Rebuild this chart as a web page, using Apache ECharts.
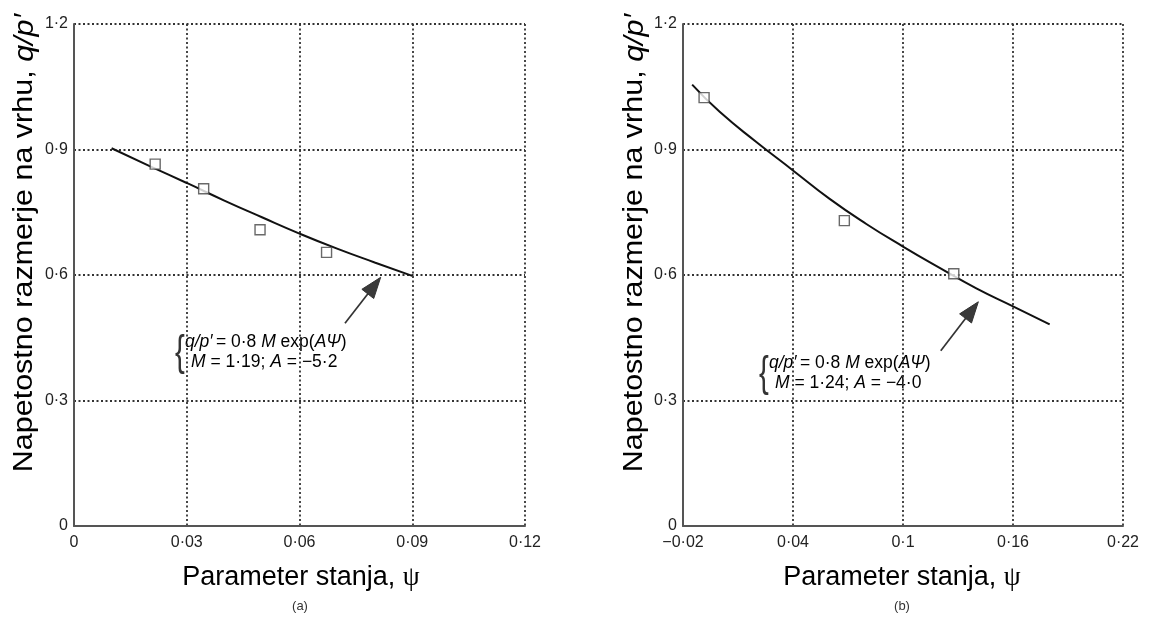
<!DOCTYPE html>
<html><head><meta charset="utf-8">
<script src="https://cdn.jsdelivr.net/npm/echarts@6/dist/echarts.min.js"></script>
<style>html,body{margin:0;padding:0;background:#fff}#c{width:1150px;height:617px}</style>
</head><body><div id="c"></div>
<script>
// ---- tick values / labels ----
const yTicks = [0, 0.3, 0.6, 0.9, 1.2];
const yTickLabels = ['0', '0·3', '0·6', '0·9', '1·2'];
const xTicksA = [0, 0.03, 0.06, 0.09, 0.12];
const xTickLabelsA = ['0', '0·03', '0·06', '0·09', '0·12'];
const xTicksB = [-0.02, 0.04, 0.10, 0.16, 0.22];
const xTickLabelsB = ['−0·02', '0·04', '0·1', '0·16', '0·22'];

// ---- panel (a) ----
const pointsAx = [0.0216, 0.0345, 0.0495, 0.0672];
const pointsAy = [0.865, 0.806, 0.708, 0.654];
const curveAx = [0.010, 0.020, 0.030, 0.040, 0.050, 0.060, 0.070, 0.080, 0.090];
const curveAy = [0.903, 0.861, 0.820, 0.778, 0.738, 0.699, 0.663, 0.630, 0.598];
const arrowA = [0.0721, 0.4846, 0.0816, 0.5945];

// ---- panel (b) ----
const pointsBx = [-0.0085, 0.068, 0.1277];
const pointsBy = [1.024, 0.730, 0.603];
const curveBx = [-0.015, 0.000, 0.020, 0.040, 0.060, 0.080, 0.100, 0.120, 0.140, 0.160, 0.180];
const curveBy = [1.055, 0.990, 0.918, 0.850, 0.782, 0.722, 0.668, 0.617, 0.568, 0.525, 0.482];
const arrowB = [0.1206, 0.419, 0.1411, 0.536];

const FONT = "'Liberation Sans', Arial, Helvetica, sans-serif";
const zip = (a, b) => a.map((v, i) => [v, b[i]]);
const fmt = (ticks, labels) => v => {
  const i = ticks.findIndex(t => Math.abs(t - v) < 1e-6);
  return i >= 0 ? labels[i] : '';
};
const gridLine = { show: true, lineStyle: { color: '#333', width: 1.8, type: [2, 2.5] } };
const axisLineStyle = { show: true, onZero: false, lineStyle: { color: '#555', width: 2 } };

function xAxis(gi, ticks, labels) {
  return {
    type: 'value', gridIndex: gi, min: ticks[0], max: ticks[ticks.length - 1],
    interval: ticks[1] - ticks[0],
    axisLine: axisLineStyle, axisTick: { show: false }, splitLine: gridLine,
    axisLabel: { margin: 9, fontSize: 16, color: '#222', fontFamily: FONT,
      showMinLabel: true, showMaxLabel: true, formatter: fmt(ticks, labels) }
  };
}
function yAxis(gi) {
  return {
    type: 'value', gridIndex: gi, min: 0, max: 1.2, interval: 0.3,
    axisLine: axisLineStyle, axisTick: { show: false }, splitLine: gridLine,
    axisLabel: { margin: 6, fontSize: 16, color: '#222', fontFamily: FONT,
      showMinLabel: true, showMaxLabel: true, formatter: fmt(yTicks, yTickLabels) }
  };
}

function arrowRender(params, api) {
  const a = api.coord([api.value(0), api.value(1)]);
  const b = api.coord([api.value(2), api.value(3)]);
  const dx = b[0] - a[0], dy = b[1] - a[1];
  const L = Math.hypot(dx, dy), ux = dx / L, uy = dy / L;
  const hl = 21, hw = 7.5;
  const base = [b[0] - ux * hl, b[1] - uy * hl];
  const l = [base[0] - uy * hw, base[1] + ux * hw];
  const r = [base[0] + uy * hw, base[1] - ux * hw];
  return {
    type: 'group', children: [
      { type: 'line', shape: { x1: a[0], y1: a[1], x2: base[0] + ux * 4, y2: base[1] + uy * 4 },
        style: { stroke: '#333', lineWidth: 1.7 } },
      { type: 'polygon', shape: { points: [b, l, r] }, style: { fill: '#3a3a3a', stroke: '#333', lineWidth: 1 } }
    ]
  };
}

function panelSeries(idx, cx, cy, px, py, arrow) {
  return [
    { type: 'line', xAxisIndex: idx, yAxisIndex: idx, data: zip(cx, cy), smooth: true,
      showSymbol: false, lineStyle: { color: '#111', width: 2 }, z: 3, silent: true },
    { type: 'scatter', xAxisIndex: idx, yAxisIndex: idx, data: zip(px, py), symbol: 'rect',
      symbolSize: 10, itemStyle: { color: '#fff', borderColor: '#444', borderWidth: 1.4 }, z: 4 },
    { type: 'custom', xAxisIndex: idx, yAxisIndex: idx, data: [arrow], renderItem: arrowRender,
      encode: { x: [0, 2], y: [1, 3] }, z: 5, silent: true }
  ];
}

const rich = {
  n: { fontFamily: FONT, fontSize: 17.5, color: '#333' },
  i: { fontFamily: FONT, fontSize: 17.5, color: '#333', fontStyle: 'italic' }
};
function annot(x, y, line1, line2, dx2) {
  return [
    { type: 'text', x: x, y: y + 1, scaleX: 0.7, style: { text: '{', font: '42px ' + FONT, fill: '#333',
      align: 'left', verticalAlign: 'middle' } },
    { type: 'text', x: x + 10, y: y - 10, style: { text: line1, rich: rich, align: 'left', verticalAlign: 'middle' } },
    { type: 'text', x: x + 10 + dx2, y: y + 10, style: { text: line2, rich: rich, align: 'left', verticalAlign: 'middle' } }
  ];
}
const yTitle = '{n|Napetostno razmerje na vrhu, }{i|q/p′}';
const yRich = { n: { fontFamily: FONT, fontSize: 27, color: '#000' }, i: { fontFamily: FONT, fontSize: 27, color: '#000', fontStyle: 'italic' } };
const xTitle = '{n|Parameter stanja, }{s|ψ}';
const xRich = { n: { fontFamily: FONT, fontSize: 27, color: '#000' }, s: { fontFamily: "'Liberation Serif', 'DejaVu Serif', serif", fontSize: 27, color: '#000' } };

const chart = echarts.init(document.getElementById('c'), null, { renderer: 'canvas' });
chart.setOption({
  backgroundColor: '#fff',
  animation: false,
  grid: [
    { left: 74, top: 24, width: 451, height: 502 },
    { left: 683, top: 24, width: 440, height: 502 }
  ],
  xAxis: [xAxis(0, xTicksA, xTickLabelsA), xAxis(1, xTicksB, xTickLabelsB)],
  yAxis: [yAxis(0), yAxis(1)],
  series: [
    ...panelSeries(0, curveAx, curveAy, pointsAx, pointsAy, arrowA),
    ...panelSeries(1, curveBx, curveBy, pointsBx, pointsBy, arrowB)
  ],
  graphic: [
    { type: 'text', x: 25, y: 243, rotation: Math.PI / 2, scaleX: 1.13,
      style: { text: yTitle, rich: yRich, align: 'center', verticalAlign: 'middle' } },
    { type: 'text', x: 635, y: 243, rotation: Math.PI / 2, scaleX: 1.13,
      style: { text: yTitle, rich: yRich, align: 'center', verticalAlign: 'middle' } },
    { type: 'text', x: 301, y: 578, style: { text: xTitle, rich: xRich, align: 'center', verticalAlign: 'middle' } },
    { type: 'text', x: 902, y: 578, style: { text: xTitle, rich: xRich, align: 'center', verticalAlign: 'middle' } },
    { type: 'text', x: 300, y: 606, style: { text: '(a)', font: '13px ' + FONT, fill: '#333', align: 'center', verticalAlign: 'middle' } },
    { type: 'text', x: 902, y: 606, style: { text: '(b)', font: '13px ' + FONT, fill: '#333', align: 'center', verticalAlign: 'middle' } },
    ...annot(175, 352, '{i|q/p′} {n|= 0·8 }{i|M}{n| exp(}{i|AΨ}{n|)}', '{i|M}{n| = 1·19; }{i|A}{n| = −5·2}', 6),
    ...annot(759, 373, '{i|q/p′} {n|= 0·8 }{i|M}{n| exp(}{i|AΨ}{n|)}', '{i|M}{n| = 1·24; }{i|A}{n| = −4·0}', 6)
  ]
});
</script>
</body></html>
